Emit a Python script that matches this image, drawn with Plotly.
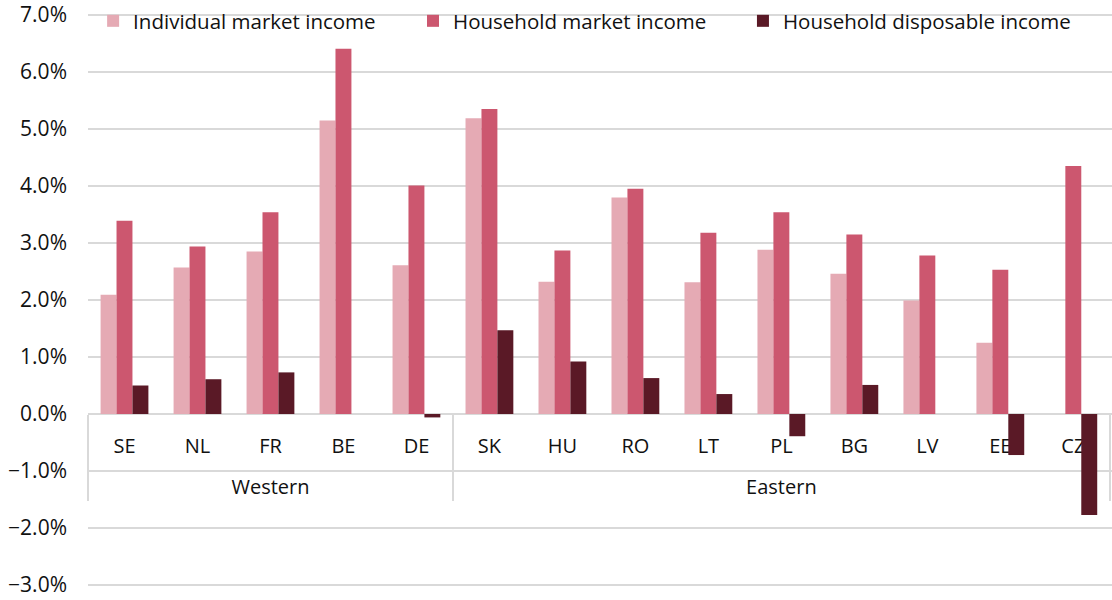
import plotly.graph_objects as go

countries = ["SE", "NL", "FR", "BE", "DE", "SK", "HU", "RO", "LT", "PL", "BG", "LV", "EE", "CZ"]
regions = ["Western"] * 5 + ["Eastern"] * 9
individual_market = [2.09, 2.57, 2.85, 5.15, 2.61, 5.19, 2.32, 3.80, 2.31, 2.88, 2.46, 1.99, 1.25, None]
household_market = [3.39, 2.94, 3.54, 6.41, 4.01, 5.35, 2.87, 3.95, 3.18, 3.54, 3.15, 2.78, 2.53, 4.35]
household_disposable = [0.50, 0.61, 0.73, None, -0.06, 1.47, 0.92, 0.63, 0.35, -0.39, 0.51, None, -0.72, -1.77]

series_names = ["Individual market income", "Household market income", "Household disposable income"]
colors = ["#E5AAB4", "#CC576F", "#5A1926"]
legends = ["legend", "legend2", "legend3"]
legend_x = [0.005, 0.3174, 0.6396]

FONT = "Open Sans"
TXT = "#111111"
x = [["<br>" + r for r in regions], countries]

fig = go.Figure()
for name, vals, col, lg in zip(series_names, [individual_market, household_market, household_disposable], colors, legends):
    fig.add_trace(go.Bar(x=x, y=vals, name=name, marker=dict(color=col, line=dict(width=0)),
                         legend=lg, showlegend=True))

W, H = 1112, 600
PX_PER_UNIT = 57
y_min = -3 - 15 / PX_PER_UNIT
y_max = 7 + 15 / PX_PER_UNIT
zero_pos = (0 - y_min) / (y_max - y_min)

def leg(xp):
    return dict(orientation="h", yanchor="middle", y=1 - 21 / H, xanchor="left", x=xp,
                font=dict(family=FONT, size=20.5, color=TXT), bgcolor="rgba(0,0,0,0)",
                borderwidth=0)

fig.update_layout(
    width=W, height=H,
    margin=dict(l=88, r=0, t=0, b=0, autoexpand=False),
    paper_bgcolor="white", plot_bgcolor="white",
    barmode="group", bargap=0.345, bargroupgap=0,
    font=dict(family=FONT, size=20, color=TXT),
    showlegend=True,
    legend=leg(legend_x[0]),
    legend2=leg(legend_x[1]),
    legend3=leg(legend_x[2]),
    xaxis=dict(
        type="multicategory", anchor="free", position=zero_pos,
        range=[-0.5, 13.53], automargin=False,
        showline=True, linecolor="#D9D9D9", linewidth=2,
        showdividers=True, dividercolor="#D9D9D9", dividerwidth=2,
        ticks="", ticklabelstandoff=14,
        tickfont=dict(family=FONT, size=20, color=TXT),
        showgrid=False, layer="below traces",
    ),
    yaxis=dict(
        range=[y_min, y_max], dtick=1, tick0=0, automargin=False,
        tickformat=".1f", ticksuffix="%",
        showgrid=True, gridcolor="#D9D9D9", gridwidth=1.5,
        zeroline=False, showline=False,
        ticks="", ticklabelstandoff=20,
        tickfont=dict(family=FONT, size=21, color=TXT),
    ),
)

fig.write_html("out.html", config={"displayModeBar": False},
               post_script="document.body.style.margin='0px';")
